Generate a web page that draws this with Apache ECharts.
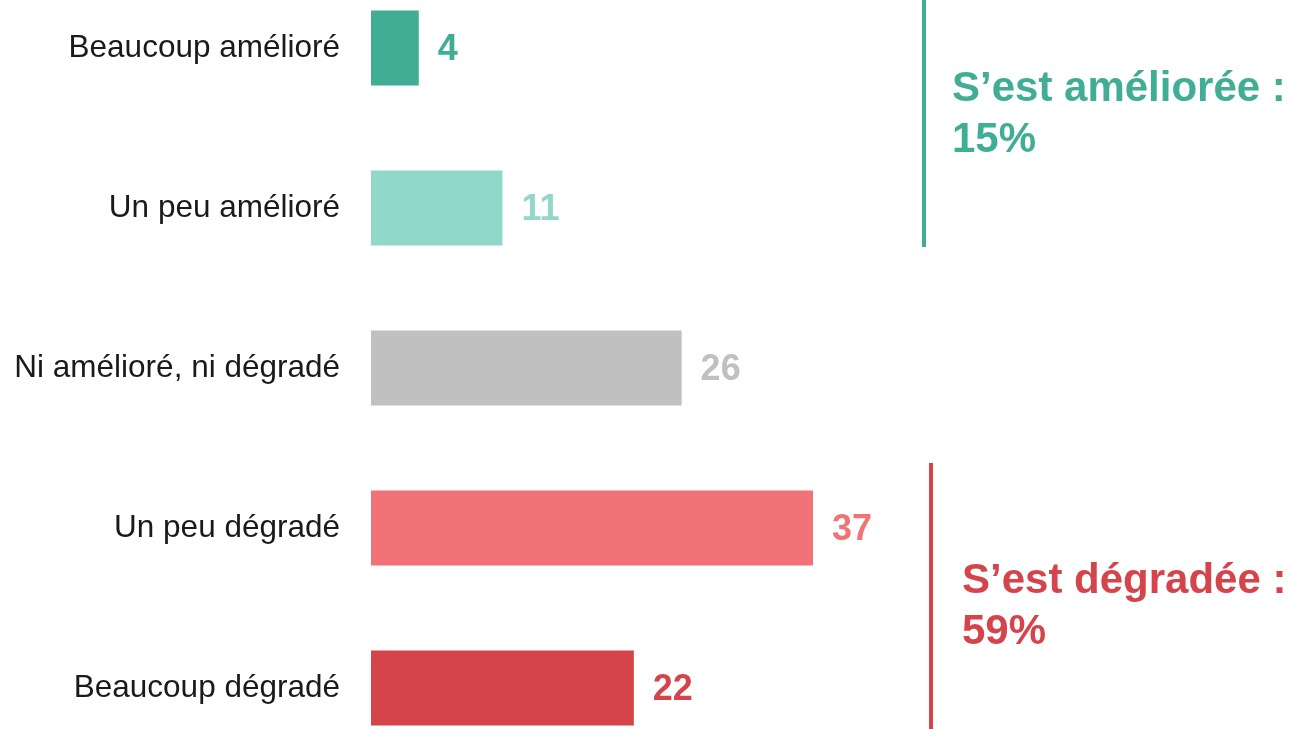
<!DOCTYPE html>
<html>
<head>
<meta charset="utf-8">
<script src="https://cdn.jsdelivr.net/npm/echarts@6/dist/echarts.min.js"></script>
<style>
  html, body { margin: 0; padding: 0; background: #fff; }
  #chart { width: 1294px; height: 729px; }
</style>
</head>
<body>
<div id="chart"></div>
<script>
const categories = ["Beaucoup amélioré", "Un peu amélioré", "Ni amélioré, ni dégradé", "Un peu dégradé", "Beaucoup dégradé"];
const values = [4, 11, 26, 37, 22];
const barColors = ["#3fae94", "#90d8c9", "#c0c0c0", "#f27377", "#d6444b"];
const improvedIdx = [0, 1];
const degradedIdx = [3, 4];

const font = "'Liberation Sans', Arial, sans-serif";
const improvedPct = improvedIdx.reduce((s, i) => s + values[i], 0);
const degradedPct = degradedIdx.reduce((s, i) => s + values[i], 0);

const chart = echarts.init(document.getElementById("chart"));

const option = {
  animation: false,
  grid: { left: 371, top: 48, width: 896, height: 640, containLabel: false },
  xAxis: {
    type: "value",
    min: 0,
    max: 75,
    show: false
  },
  yAxis: {
    type: "category",
    inverse: true,
    boundaryGap: false,
    data: categories,
    axisLine: { show: false },
    axisTick: { show: false },
    splitLine: { show: false },
    axisLabel: {
      margin: 31,
      fontSize: 31.5,
      fontFamily: font,
      color: "#1a1a1a"
    }
  },
  series: [
    {
      type: "bar",
      barWidth: 75,
      data: values.map((v, i) => ({
        value: v,
        itemStyle: { color: barColors[i] },
        label: { color: barColors[i] }
      })),
      label: {
        show: true,
        position: "right",
        distance: 19,
        offset: [0, 2],
        fontSize: 36,
        fontWeight: "bold",
        fontFamily: font
      }
    }
  ],
  graphic: [
    {
      type: "rect",
      shape: { x: 922, y: 0, width: 4, height: 247 },
      style: { fill: barColors[0] }
    },
    {
      type: "text",
      left: 952,
      top: 64,
      style: {
        text: "S’est améliorée :\n" + improvedPct + "%",
        font: "bold 42px " + font,
        lineHeight: 51,
        fill: barColors[0]
      }
    },
    {
      type: "rect",
      shape: { x: 929, y: 463, width: 4, height: 266 },
      style: { fill: barColors[4] }
    },
    {
      type: "text",
      left: 962,
      top: 556,
      style: {
        text: "S’est dégradée :\n" + degradedPct + "%",
        font: "bold 42px " + font,
        lineHeight: 51,
        fill: barColors[4]
      }
    }
  ]
};

chart.setOption(option);
</script>
</body>
</html>
